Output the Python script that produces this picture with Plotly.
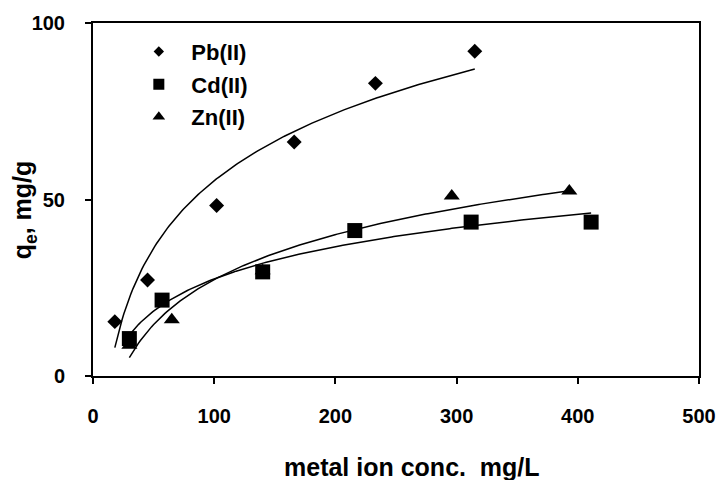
import numpy as np
import plotly.graph_objects as go

# Equilibrium adsorption data: metal ion concentration (mg/L) vs uptake q_e (mg/g)
pb_conc = [18, 45, 102, 166, 233, 315]
pb_qe = [15.4, 27.2, 48.3, 66.3, 82.9, 92.0]

cd_conc = [30, 57, 140, 216, 312, 411]
cd_qe = [10.6, 21.5, 29.5, 41.2, 43.6, 43.6]

zn_conc = [30, 65, 140, 296, 393]
zn_qe = [8.7, 15.9, 29.8, 51.0, 52.4]

x_ticks = [0, 100, 200, 300, 400, 500]
y_ticks = [0, 50, 100]

FONT = "Liberation Sans, Arial, sans-serif"

# name, x, y, marker symbol, marker size on plot, marker size in legend
series = [
    ("Pb(II)", pb_conc, pb_qe, "diamond", 11.5, 8),
    ("Cd(II)", cd_conc, cd_qe, "square", 15, 11),
    ("Zn(II)", zn_conc, zn_qe, "triangle-up", 14, 11),
]

W, H = 728, 480
ML, MR, MT, MB = 93, 21, 20, 104
PW, PH = W - ML - MR, H - MT - MB


def px_x(p):
    return (p - ML) / PW


def px_y(p):
    return (H - MB - p) / PH


def log_trend(x, y):
    """Least-squares logarithmic trendline y = a*ln(x) + b over the data range."""
    x = np.asarray(x, float)
    y = np.asarray(y, float)
    a, b = np.polyfit(np.log(x), y, 1)
    xs = np.linspace(x.min(), x.max(), 200)
    return xs, a * np.log(xs) + b


fig = go.Figure()

for name, x, y, sym, size, lsize in series:
    xs, ys = log_trend(x, y)
    fig.add_trace(go.Scatter(
        x=xs, y=ys, mode="lines",
        line=dict(color="black", width=1.5),
        showlegend=False, hoverinfo="skip",
    ))

for name, x, y, sym, size, lsize in series:
    fig.add_trace(go.Scatter(
        x=x, y=y, mode="markers", name=name, showlegend=False,
        marker=dict(symbol=sym, size=size, color="black", line=dict(width=0)),
    ))

# legend entries (smaller symbols than the plotted points)
for name, x, y, sym, size, lsize in series:
    fig.add_trace(go.Scatter(
        x=[None], y=[None], mode="markers", name=name, legendgroup=name,
        marker=dict(symbol=sym, size=lsize, color="black", line=dict(width=0)),
    ))

fig.update_layout(
    width=W, height=H,
    margin=dict(l=ML, r=MR, t=MT, b=MB),
    paper_bgcolor="white", plot_bgcolor="white",
    font=dict(family=FONT, color="black", size=20),
    showlegend=True,
    legend=dict(
        x=0.055, y=0.978, xanchor="left", yanchor="top",
        bgcolor="rgba(0,0,0,0)", borderwidth=0,
        font=dict(family=FONT, size=22, color="black", weight="bold"),
        itemwidth=55, itemsizing="trace", tracegroupgap=1,
    ),
    xaxis=dict(
        range=[0, 500], tickvals=x_ticks, ticktext=[str(v) for v in x_ticks],
        showgrid=False, zeroline=False,
        showline=True, linecolor="black", linewidth=2, mirror=True,
        ticks="outside", ticklen=6, tickwidth=2, tickcolor="black",
        tickfont=dict(family=FONT, size=20, color="black", weight="bold"),
        ticklabelstandoff=15,
    ),
    yaxis=dict(
        range=[0, 100], tickvals=y_ticks, ticktext=[str(v) for v in y_ticks],
        showgrid=False, zeroline=False,
        showline=True, linecolor="black", linewidth=2, mirror=True,
        ticks="outside", ticklen=6, tickwidth=2, tickcolor="black",
        tickfont=dict(family=FONT, size=20, color="black", weight="bold"),
        ticklabelstandoff=16,
    ),
)

fig.add_annotation(
    text="metal ion conc.\u00a0 mg/L", xref="paper", yref="paper",
    x=px_x(416), y=px_y(452), xanchor="center", yanchor="top", showarrow=False,
    font=dict(family=FONT, size=25, color="black", weight="bold"),
)
fig.add_annotation(
    text="q<sub>e</sub>, mg/g", xref="paper", yref="paper",
    x=px_x(24), y=px_y(208), xanchor="center", yanchor="middle", showarrow=False,
    textangle=-90,
    font=dict(family=FONT, size=25, color="black", weight="bold"),
)

fig.write_html("out.html")
